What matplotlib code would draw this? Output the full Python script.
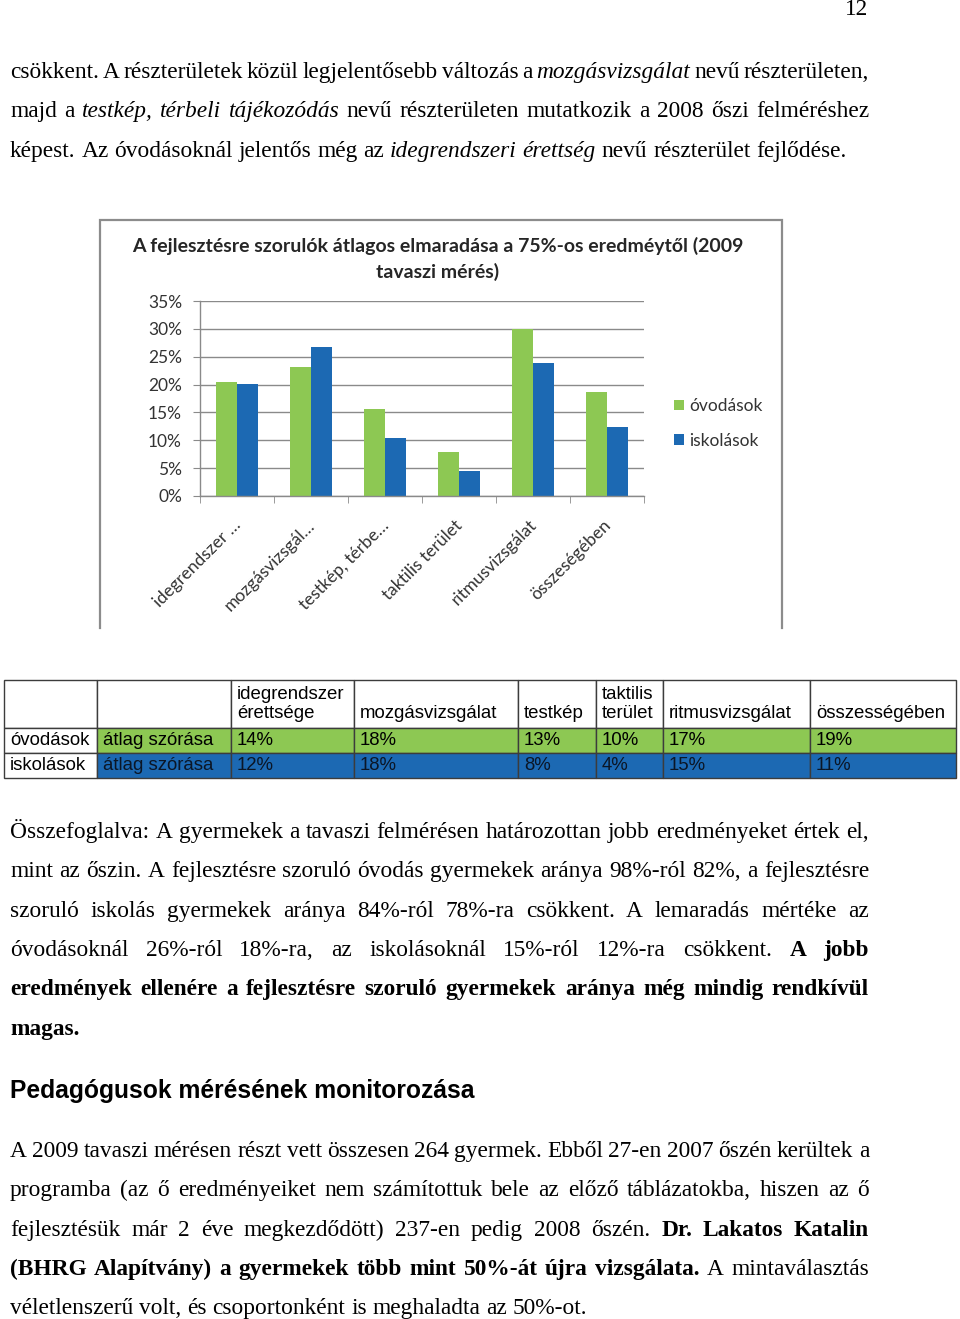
import matplotlib
matplotlib.use('Agg')
import matplotlib.pyplot as plt
import matplotlib.transforms as mtransforms
import numpy as np

# chart data
categories = ['idegrendszer …', 'mozgásvizsgál…', 'testkép, térbe…',
              'taktilis terület', 'ritmusvizsgálat', 'összeségében']
ovodasok = [20.5, 23.2, 15.7, 7.9, 30.0, 18.6]
iskolasok = [20.1, 26.8, 10.5, 4.4, 23.9, 12.3]
series_names = ['óvodások', 'iskolások']
yticks = [0, 5, 10, 15, 20, 25, 30, 35]
chart_title = ['A fejlesztésre szorulók átlagos elmaradása a 75%-os eredméytől (2009',
               'tavaszi mérés)']

# table under the chart
table_header = ['', '', 'idegrendszer\nérettsége', '\nmozgásvizsgálat', '\ntestkép',
                'taktilis\nterület', '\nritmusvizsgálat', '\nösszességében']
table_rows = [['óvodások', 'átlag szórása', '14%', '18%', '13%', '10%', '17%', '19%'],
              ['iskolások', 'átlag szórása', '12%', '18%', '8%', '4%', '15%', '11%']]

# page text, one entry per printed line: (text, style) pieces
para1 = [
    [('csökkent. A részterületek közül legjelentősebb változás a ', 'n'),
     ('mozgásvizsgálat', 'i'), (' nevű részterületen,', 'n')],
    [('majd a ', 'n'), ('testkép, térbeli tájékozódás', 'i'),
     (' nevű részterületen mutatkozik a 2008 őszi felméréshez', 'n')],
    [('képest. Az óvodásoknál jelentős még az ', 'n'), ('idegrendszeri érettség', 'i'),
     (' nevű részterület fejlődése.', 'n')],
]
para2 = [
    [('Összefoglalva: A gyermekek a tavaszi felmérésen határozottan jobb eredményeket értek el,', 'n')],
    [('mint az őszin. A fejlesztésre szoruló óvodás gyermekek aránya 98%-ról 82%, a fejlesztésre', 'n')],
    [('szoruló iskolás gyermekek aránya 84%-ról 78%-ra csökkent. A lemaradás mértéke az', 'n')],
    [('óvodásoknál 26%-ról 18%-ra, az iskolásoknál 15%-ról 12%-ra csökkent. ', 'n'), ('A jobb', 'b')],
    [('eredmények ellenére a fejlesztésre szoruló gyermekek aránya még mindig rendkívül', 'b')],
    [('magas.', 'b')],
]
heading = 'Pedagógusok mérésének monitorozása'
para3 = [
    [('A 2009 tavaszi mérésen részt vett összesen 264 gyermek. Ebből 27-en 2007 őszén kerültek a', 'n')],
    [('programba (az ő eredményeiket nem számítottuk bele az előző táblázatokba, hiszen az ő', 'n')],
    [('fejlesztésük már 2 éve megkezdődött) 237-en pedig 2008 őszén. ', 'n'), ('Dr. Lakatos Katalin', 'b')],
    [('(BHRG Alapítvány) a gyermekek több mint 50%-át újra vizsgálata.', 'b'), (' A mintaválasztás', 'n')],
    [('véletlenszerű volt, és csoportonként is meghaladta az 50%-ot.', 'n')],
]

green = '#8dc853'
blue = '#1c69b3'
gray = '#8a8a8a'
W, H = 960, 1319

fig = plt.figure(figsize=(W / 100, H / 100), dpi=100)
renderer = fig.canvas.get_renderer()

# page axes in pixel units
page = fig.add_axes([0, 0, 1, 1])
page.set_xlim(0, W)
page.set_ylim(H, 0)
page.axis('off')

body_size = 16.8
serif = 'Liberation Serif'
left, right = 10, 869
line_gap = 39.3


def draw_line(y, segs, justify):
    words = []
    for txt, st in segs:
        for w in txt.split():
            words.append((w, st))
    texts, widths = [], []
    for w, st in words:
        t = page.text(0, y, w, fontsize=body_size, family=serif, va='baseline', ha='left',
                      fontstyle='italic' if st == 'i' else 'normal',
                      fontweight='bold' if st == 'b' else 'normal')
        texts.append(t)
        widths.append(t.get_window_extent(renderer).width)
    if justify and len(words) > 1:
        gap = (right - left - sum(widths)) / (len(words) - 1)
    else:
        gap = body_size * 100 / 72 * 0.25
    x = left
    for t, w in zip(texts, widths):
        t.set_x(x)
        x += w + gap


def draw_para(y0, lines):
    for i, segs in enumerate(lines):
        draw_line(y0 + i * line_gap, segs, i < len(lines) - 1)


page.text(868, 15, '12', fontsize=body_size, family=serif, ha='right', va='baseline')
draw_para(78, para1)
draw_para(838, para2)
page.text(left, 1098, heading, fontsize=17.7, family='Liberation Sans', fontweight='bold',
          va='baseline')
draw_para(1157, para3)

# chart frame (left, top, right edges only are visible)
bx0, by0, bx1, by1 = 100, 220, 782, 628
page.plot([bx0, bx0, bx1, bx1], [by1, by0, by0, by1], color='#8c8c8c', lw=1.6,
          solid_joinstyle='miter')

page.text(437.5, 252, chart_title[0], fontsize=14, family='Lato', fontweight='bold',
          color='#262626', ha='center', va='baseline')
page.text(437.5, 278, chart_title[1], fontsize=14, family='Lato', fontweight='bold',
          color='#262626', ha='center', va='baseline')

# bar chart
ax = fig.add_axes([200 / W, 1 - 496 / H, 444 / W, 195 / H])
ax.set_facecolor('none')
x = np.arange(len(categories))
bw = 0.286
b1 = ax.bar(x - bw / 2, ovodasok, bw, color=green, label=series_names[0])
b2 = ax.bar(x + bw / 2, iskolasok, bw, color=blue, label=series_names[1])
ax.set_xlim(-0.5, len(categories) - 0.5)
ax.set_ylim(0, 35)
ax.set_yticks(yticks)
ax.set_yticklabels([f'{v}%' for v in yticks], family='Lato', fontsize=12.5, color='#333333')
ax.yaxis.grid(True, color=gray, lw=1)
ax.set_axisbelow(True)
for s in ['top', 'right']:
    ax.spines[s].set_visible(False)
for s in ['left', 'bottom']:
    ax.spines[s].set_color(gray)
    ax.spines[s].set_linewidth(1)
ax.tick_params(axis='y', length=5, color=gray, pad=8)
ax.set_xticks(x)
ax.set_xticklabels(categories, rotation=45, ha='right', rotation_mode='anchor',
                   family='Lato', fontsize=12.5, color='#333333')
ax.set_xticks(np.arange(-0.5, len(categories)), minor=True)
ax.tick_params(axis='x', which='major', length=0, pad=13)
ax.tick_params(axis='x', which='minor', length=5, color=gray)
shift = mtransforms.ScaledTranslation(-0.045, -0.03, fig.dpi_scale_trans)
for lab in ax.get_xticklabels():
    lab.set_transform(lab.get_transform() + shift)

leg = ax.legend(handles=[b1, b2], loc='center left', bbox_to_anchor=(674 / W, 1 - 423.5 / H),
                bbox_transform=fig.transFigure, frameon=False, borderpad=0, borderaxespad=0,
                handlelength=0.55, handleheight=0.55, handletextpad=0.3, labelspacing=1.05,
                prop={'family': 'Lato', 'size': 12.5})
for t in leg.get_texts():
    t.set_color('#333333')

# table
col_px = [93, 134, 123, 164, 78, 67, 147, 146]
row_px = [48, 25, 25]
tax = fig.add_axes([4 / W, 1 - 778 / H, sum(col_px) / W, sum(row_px) / H])
tax.axis('off')
tbl = tax.table(cellText=[table_header] + table_rows, colWidths=col_px, cellLoc='left',
                bbox=[0, 0, 1, 1])
tbl.auto_set_font_size(False)
tbl.set_fontsize(13.4)
row_colors = ['white', green, blue]
for (r, c), cell in tbl.get_celld().items():
    cell.set_height(row_px[r])
    cell.set_edgecolor('#3c3c3c')
    cell.set_linewidth(1)
    cell.PAD = 6 / col_px[c]
    cell.get_text().set_fontfamily('Liberation Sans')
    if r > 0 and c > 0:
        cell.set_facecolor(row_colors[r])
    if r == 2 and c > 0:
        cell.get_text().set_color('#0b1626')

fig.savefig('out.png', dpi=100)
